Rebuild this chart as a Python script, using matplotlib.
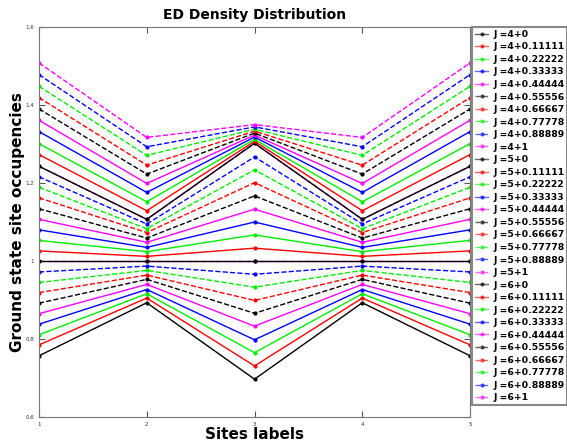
import numpy as np
import matplotlib.pyplot as plt

sites = [1, 2, 3, 4, 5]

# occupancies at sites 1, 2, 3 (sites 4 and 5 mirror 2 and 1)
labels = ["J =4+0", "J =4+0.11111", "J =4+0.22222", "J =4+0.33333", "J =4+0.44444",
          "J =4+0.55556", "J =4+0.66667", "J =4+0.77778", "J =4+0.88889", "J =4+1",
          "J =5+0", "J =5+0.11111", "J =5+0.22222", "J =5+0.33333", "J =5+0.44444",
          "J =5+0.55556", "J =5+0.66667", "J =5+0.77778", "J =5+0.88889", "J =5+1",
          "J =6+0", "J =6+0.11111", "J =6+0.22222", "J =6+0.33333", "J =6+0.44444",
          "J =6+0.55556", "J =6+0.66667", "J =6+0.77778", "J =6+0.88889", "J =6+1"]
site1 = [0.757, 0.785, 0.811, 0.838, 0.865, 0.892, 0.919, 0.945, 0.972, 1.0,
         1.0, 1.026, 1.053, 1.080, 1.107, 1.134, 1.162, 1.189, 1.216, 1.243,
         1.243, 1.273, 1.301, 1.332, 1.361, 1.390, 1.419, 1.448, 1.478, 1.508]
site2 = [0.893, 0.905, 0.916, 0.927, 0.940, 0.953, 0.964, 0.976, 0.987, 1.0,
         1.0, 1.012, 1.024, 1.035, 1.048, 1.059, 1.073, 1.083, 1.095, 1.107,
         1.107, 1.129, 1.152, 1.176, 1.199, 1.223, 1.246, 1.271, 1.293, 1.317]
site3 = [0.697, 0.731, 0.765, 0.798, 0.833, 0.866, 0.899, 0.933, 0.966, 1.0,
         1.0, 1.033, 1.067, 1.100, 1.133, 1.167, 1.201, 1.234, 1.267, 1.302,
         1.302, 1.307, 1.312, 1.318, 1.323, 1.328, 1.333, 1.338, 1.344, 1.350]

colors = ["#000000", "#ff0000", "#00ee00", "#0000ff", "#ff00ff"]

fig = plt.figure(figsize=(5.67, 4.44), dpi=100)
ax = fig.add_axes([0.0688, 0.0608, 0.7602, 0.8782])

for i, lab in enumerate(labels):
    y = [site1[i], site2[i], site3[i], site2[i], site1[i]]
    ls = "-" if (i % 10) < 5 else "--"
    ax.plot(sites, y, color=colors[i % 5], linestyle=ls, marker="o",
            markersize=2, linewidth=1, label=lab)

ax.set_xlim(1, 5)
ax.set_ylim(0.6, 1.6)
ax.set_xticks(sites)
ax.set_yticks([0.6, 0.8, 1.0, 1.2, 1.4, 1.6])
ax.set_yticklabels(["0.6", "0.8", "1", "1.2", "1.4", "1.6"])
ax.tick_params(direction="in", labelsize=4, top=True, right=True, length=4,
               color="#555555", labelcolor="#333333")
for s in ax.spines.values():
    s.set_color("#777777")

ax.set_title("ED Density Distribution", fontsize=10, fontweight="bold", pad=6)
ax.set_xlabel("Sites labels", fontsize=11, fontweight="bold", labelpad=0)
ax.set_ylabel("Ground state site occupencies", fontsize=11, fontweight="bold", labelpad=0)

leg = ax.legend(loc="upper left", bbox_to_anchor=(1.005, 1.0), borderaxespad=0,
                prop={"size": 6.7, "weight": "bold"}, handlelength=1.4,
                labelspacing=0.38, handletextpad=0.55, borderpad=0.3,
                fancybox=False, framealpha=1)
leg.get_frame().set_edgecolor("#888888")
leg.get_frame().set_linewidth(1.5)
for h in leg.legend_handles:
    h.set_alpha(0.6)

fig.savefig("out.png", dpi=100)
